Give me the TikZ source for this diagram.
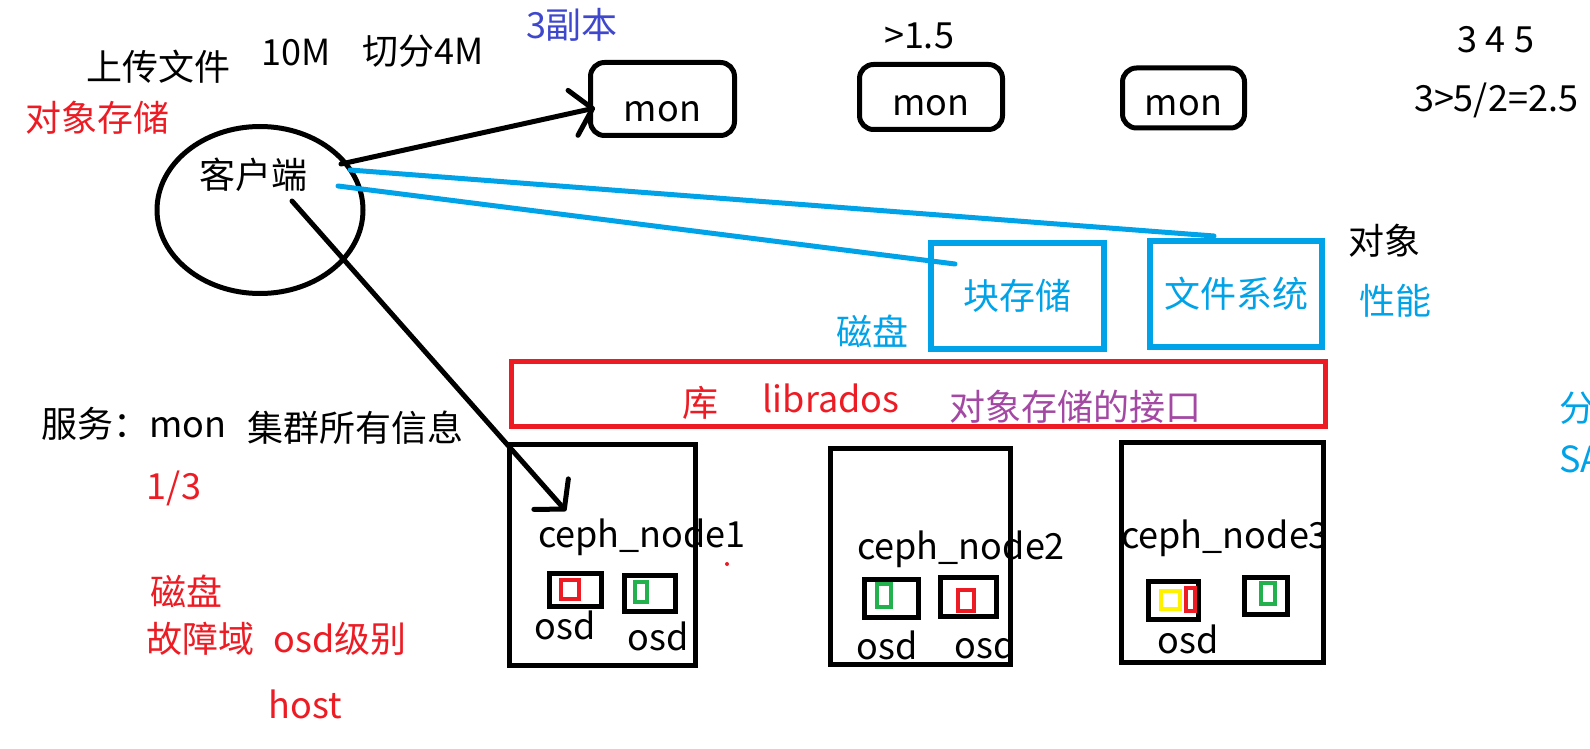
\documentclass[tikz,border=0pt]{standalone}
\usepackage{fontspec}
\setmainfont{Noto Sans CJK SC}
\usetikzlibrary{arrows.meta,positioning,shapes.geometric}

\definecolor{pred}{RGB}{237,28,36}
\definecolor{pblue}{RGB}{0,162,232}
\definecolor{pgreen}{RGB}{34,177,76}
\definecolor{pyellow}{RGB}{255,242,0}
\definecolor{ppurple}{RGB}{163,73,164}
\definecolor{pindigo}{RGB}{63,72,204}

\begin{document}
\begin{tikzpicture}[x=1pt, y=-1pt, line cap=round,
	txt/.style={font=\fontsize{36}{40}\selectfont, inner sep=0pt},
	monbox/.style={draw, line width=5pt, rounded corners=14pt, inner sep=0pt, font=\fontsize{36}{40}\selectfont},
	bluebox/.style={draw=pblue, line width=6pt, inner sep=0pt, text=pblue, font=\fontsize{36}{40}\selectfont},
	libbox/.style={draw=pred, line width=5pt, inner sep=0pt},
	hostbox/.style={draw, line width=5pt, inner sep=0pt},
	osdbox/.style={draw, line width=5pt, inner sep=0pt},
	disk/.style={draw, line width=4pt, inner sep=0pt},
	pen/.style={line width=5pt, -{Straight Barb[length=20pt, width=46pt, round]}},
	wire/.style={draw=pblue, line width=5pt}]

	\fill[white] (0,0) rectangle (1590,749);
	\useasboundingbox (0,0) rectangle (1590,749);

	% notes on top
	\node[txt] (upload) at (158,67) {上传文件};
	\node[txt] (size) at (296,53) {10M};
	\node[txt] (split) at (423,51) {切分4M};
	\node[txt, text=pindigo] (replica) at (572,25) {3副本};
	\node[txt] (half) at (919,36) {>1.5};
	\node[txt] (odd) at (1496,40) {3 4 5};
	\node[txt] (major) at (1496,100) {3>5/2=2.5};
	\node[txt, text=pred] (objstore) at (97,118) {对象存储};

	% monitors
	\node[monbox, minimum width=144, minimum height=73, text height=46] (mon1) at (662.5,99) {mon};
	\node[monbox, minimum width=143, minimum height=65, text height=38] (mon2) at (931,97) {mon};
	\node[monbox, minimum width=122, minimum height=60, text height=36] (mon3) at (1183.5,98) {mon};

	% client
	\node[draw, ellipse, line width=5pt, minimum width=206, minimum height=167] (client) at (260,210) {};
	\node[txt] (clientname) at (253,175) {客户端};

	% block / file system
	\node[bluebox, minimum width=173, minimum height=106] (blk) at (1017.5,296) {块存储};
	\node[bluebox, minimum width=172, minimum height=106] (fs) at (1236,294) {文件系统};
	\node[txt, text=pblue] (diskb) at (872,331) {磁盘};
	\node[txt] (obj) at (1384,241) {对象};
	\node[txt, text=pblue] (perf) at (1395,301) {性能};

	% librados
	\node[libbox, minimum width=814, minimum height=65] (lib) at (918.5,394) {};
	\node[txt, text=pred] (ku) at (700,403) {库};
	\node[txt, text=pred] (librados) at (831,398) {librados};
	\node[txt, text=ppurple] (iface) at (1075,407) {对象存储的接口};

	\node[txt, text=pblue, anchor=west] (fen) at (1559,408) {分};
	\node[txt, text=pblue, anchor=west] (san) at (1559,459) {SA};

	% notes on the left
	\node[txt, anchor=west] (svc) at (41,424) {服务：mon};
	\node[txt] (clusterinfo) at (355,428) {集群所有信息};
	\node[txt, text=pred] (third) at (174,488) {1/3};
	\node[txt, text=pred] (diskr) at (186,591) {磁盘};
	\node[txt, text=pred] (fault) at (200,639) {故障域};
	\node[txt, text=pred] (osdlevel) at (340,639) {osd级别};
	\node[txt, text=pred] (hostlevel) at (305,704) {host};

	% ceph nodes
	\node[hostbox, minimum width=186, minimum height=221] (host1) at (602.5,555) {};
	\node[hostbox, minimum width=180, minimum height=216] (host2) at (920,556) {};
	\node[hostbox, minimum width=202, minimum height=220] (host3) at (1222,552.5) {};
	\node[txt] (name1) at (642,537) {ceph\_node1};
	\node[txt] (name2) at (961,549) {ceph\_node2};
	\node[txt] (name3) at (1225,538) {ceph\_node3};

	\node[osdbox, minimum width=52, minimum height=33] (osd1a) at (575.5,590) {};
	\node[osdbox, minimum width=51, minimum height=36] (osd1b) at (650,593.5) {};
	\node[osdbox, minimum width=54, minimum height=38] (osd2a) at (891.5,598.5) {};
	\node[osdbox, minimum width=56, minimum height=39] (osd2b) at (968.5,597) {};
	\node[osdbox, minimum width=50, minimum height=38] (osd3a) at (1173.5,600.5) {};
	\node[osdbox, minimum width=43, minimum height=37] (osd3b) at (1266,596) {};

	\node[disk, draw=pred, minimum width=18, minimum height=19] (pg1a) at (570,589.5) {};
	\node[disk, draw=pgreen, minimum width=12, minimum height=20] (pg1b) at (641,592) {};
	\node[disk, draw=pgreen, minimum width=14, minimum height=23] (pg2a) at (884,595.5) {};
	\node[disk, draw=pred, minimum width=16, minimum height=21] (pg2b) at (966,600.5) {};
	\node[disk, draw=pyellow, minimum width=19, minimum height=18] (pg3a) at (1170.5,600) {};
	\node[disk, draw=pred, minimum width=9, minimum height=23] (pg3b) at (1190.5,599.5) {};
	\node[disk, draw=pgreen, minimum width=14, minimum height=21] (pg3c) at (1268,593.5) {};

	\node[txt] (lab1a) at (565,625) {osd};
	\node[txt] (lab1b) at (658,636) {osd};
	\node[txt] (lab2a) at (887,645) {osd};
	\node[txt] (lab2b) at (985,644) {osd};
	\node[txt] (lab3a) at (1188,639) {osd};

	\node[circle, fill=pred, inner sep=0pt, minimum size=4pt] (speck) at (727,564) {};

	% connectors
	\coordinate (ca) at (341,164);
	\coordinate (cb) at (292,201);
	\coordinate (cc) at (350,170);
	\coordinate (cd) at (338,186);
	\coordinate (mon1in) at (595,108);
	\coordinate (host1in) at (566,511);
	\coordinate (fstop) at (1214,236);
	\coordinate (blkin) at (955,264);

	\draw[pen] (ca) -- (mon1in);
	\draw[pen] (cb) -- (host1in);
	\draw[wire] (cc) -- (fstop);
	\draw[wire] (cd) -- (blkin);
\end{tikzpicture}
\end{document}
